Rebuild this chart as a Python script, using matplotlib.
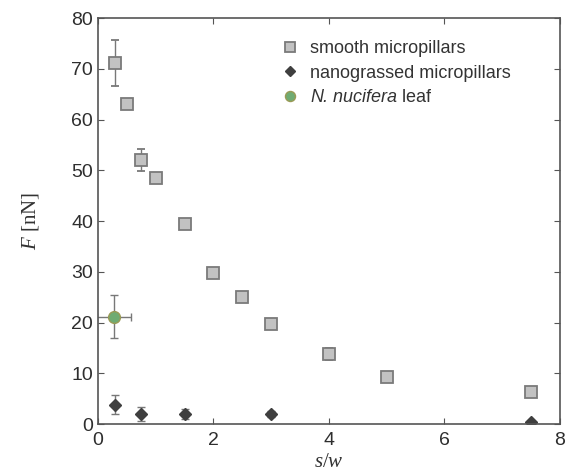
import matplotlib
matplotlib.use("Agg")
import matplotlib.pyplot as plt

# smooth micropillars
smooth_x = [0.3, 0.5, 0.75, 1.0, 1.5, 2.0, 2.5, 3.0, 4.0, 5.0, 7.5]
smooth_y = [71.2, 63.0, 52.0, 48.4, 39.5, 29.7, 25.0, 19.7, 13.8, 9.2, 6.3]
smooth_err = [4.5, 0.6, 2.2, 0.5, 0.5, 0.5, 0.5, 0.5, 1.2, 0.6, 0.5]

# nanograssed micropillars
nano_x = [0.3, 0.75, 1.5, 3.0, 7.5]
nano_y = [3.8, 2.0, 2.0, 2.0, 0.4]
nano_err = [1.9, 1.4, 1.0, 0.6, 0.3]

# N. nucifera leaf
leaf_x = [0.28]
leaf_y = [21.2]
leaf_xerr = [0.3]
leaf_yerr = [4.3]

plt.rcParams["font.family"] = ["Liberation Sans", "DejaVu Sans"]
# serif italic for axis symbols, sans italic (via \mathsf) for the species name
plt.rcParams["mathtext.fontset"] = "custom"
plt.rcParams["mathtext.rm"] = "Liberation Serif"
plt.rcParams["mathtext.it"] = "Liberation Serif:italic"
plt.rcParams["mathtext.sf"] = "Liberation Sans:italic"

fig = plt.figure(figsize=(5.66, 4.76), dpi=100)
ax = fig.add_axes([0.173, 0.109, 0.816, 0.853])

ebar = dict(ecolor="#787878", elinewidth=1.0, capsize=3, capthick=1.0, linestyle="none")
ax.errorbar(smooth_x, smooth_y, yerr=smooth_err, marker="s", ms=8.5,
            mfc="#c2c2c2", mec="#7a7a7a", mew=1.3, label="smooth micropillars", **ebar)
ax.errorbar(nano_x, nano_y, yerr=nano_err, marker="D", ms=6.5,
            mfc="#3f3f3f", mec="#3f3f3f", label="nanograssed micropillars", **ebar)
ax.errorbar(leaf_x, leaf_y, xerr=leaf_xerr, yerr=leaf_yerr, marker="o", ms=8.5,
            mfc="#6fab72", mec="#9a9a55", mew=1.0,
            label=r"$\mathsf{N.\,nucifera}$ leaf", **ebar)

ax.set_xlim(0, 8)
ax.set_ylim(0, 80)
ax.set_xticks([0, 2, 4, 6, 8])
ax.set_yticks(range(0, 81, 10))
ax.tick_params(direction="in", top=True, right=True, labelsize=14,
               labelcolor="#2e2e2e", color="#555555", length=4)
ax.tick_params(axis="x", pad=6)
for s in ax.spines.values():
    s.set_color("#555555")
    s.set_linewidth(1.2)

ax.set_xlabel("$s/w$", fontsize=15, color="#333333", labelpad=2)
ax.set_ylabel("$F$ [nN]", fontsize=15, color="#333333", family="Liberation Serif",
              labelpad=22)

handles, labels = ax.get_legend_handles_labels()
handles = [h[0] for h in handles]
leg = ax.legend(handles, labels, loc="upper left", bbox_to_anchor=(0.396, 0.945),
                frameon=False, fontsize=13, labelspacing=0.4, handletextpad=0.6,
                handlelength=1.0, borderpad=0, borderaxespad=0, markerscale=0.85)
for t in leg.get_texts():
    t.set_color("#333333")

fig.savefig("out.png", dpi=100)
